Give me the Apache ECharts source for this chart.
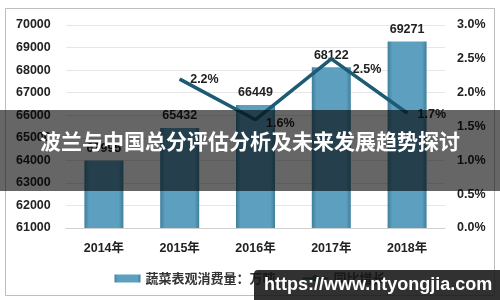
<!DOCTYPE html>
<html>
<head>
<meta charset="utf-8">
<script src="https://cdn.jsdelivr.net/npm/echarts@6/dist/echarts.min.js"></script>
<style>
html,body{margin:0;padding:0;background:#fff;}
#c{width:500px;height:300px;}
</style>
</head>
<body>
<div id="c"></div>
<script>
var categories = ['2014年','2015年','2016年','2017年','2018年'];
var consumption = [63995, 65432, 66449, 68122, 69271];
var growth = [null, 2.2, 1.6, 2.5, 1.7];
var leftTicks = [61000, 70000, 1000];
var rightTicks = [0, 3, 0.5];
var barName = '蔬菜表观消费量：万吨';
var lineName = '同比增长';
var titleText = '波兰与中国总分评估分析及未来发展趋势探讨';
var watermark = 'https://www.ntyongjia.com';

var font = '"Liberation Sans", Arial, "Noto Sans CJK SC", sans-serif';
var labelOffsets = [[0,0],[0,0],[0,4],[11,11],[0,2]];
var chart = echarts.init(document.getElementById('c'), null, {renderer:'canvas'});
var barColor = new echarts.graphic.LinearGradient(0,0,1,0,[
  {offset:0, color:'#3f7f9c'},
  {offset:0.12, color:'#5c9fbe'},
  {offset:0.88, color:'#5c9fbe'},
  {offset:1, color:'#3f7f9c'}
]);
var lineData = growth.map(function(v,i){
  return {value:v, label:{offset:labelOffsets[i]}};
});
chart.setOption({
  animation:false,
  textStyle:{fontFamily:font},
  grid:{left:66, right:55, top:25, bottom:72},
  legend:{
    bottom:10, left:'center', itemGap:26, itemWidth:26, itemHeight:8,
    textStyle:{fontSize:13, fontWeight:'bold', color:'#333', fontFamily:'"Noto Sans CJK SC", sans-serif'},
    data:[{name:barName, icon:'rect'}, {name:lineName}]
  },
  xAxis:{
    type:'category', data:categories,
    axisLine:{lineStyle:{color:'#d0d0d0'}}, axisTick:{show:false},
    axisLabel:{fontSize:12.5, fontWeight:'bold', color:'#222', margin:14}
  },
  yAxis:[{
    type:'value', min:leftTicks[0], max:leftTicks[1], interval:leftTicks[2],
    axisLine:{show:false}, axisTick:{show:false},
    splitLine:{lineStyle:{color:'#e6e6e6'}},
    axisLabel:{fontSize:12.5, fontWeight:'bold', color:'#222', align:'left', margin:50,
      formatter:function(v){return String(v);}}
  },{
    type:'value', min:rightTicks[0], max:rightTicks[1], interval:rightTicks[2],
    axisLine:{show:false}, axisTick:{show:false}, splitLine:{show:false},
    axisLabel:{fontSize:12.5, fontWeight:'bold', color:'#222', margin:12,
      formatter:function(v){return v.toFixed(1)+'%';}}
  }],
  series:[{
    name:barName, type:'bar', data:consumption, barWidth:39,
    itemStyle:{color:barColor},
    label:{show:true, position:'top', distance:6, fontSize:12.5, fontWeight:'bold', color:'#222'}
  },{
    name:lineName, type:'line', yAxisIndex:1, data:lineData, connectNulls:false,
    symbol:'circle', symbolSize:1, showSymbol:true,
    lineStyle:{color:'#1d5b73', width:3.5}, itemStyle:{color:'#1d5b73'},
    label:{show:true, position:'right', distance:10, fontSize:12.5, fontWeight:'bold', color:'#222',
      formatter:function(p){var v=Array.isArray(p.value)?p.value[1]:p.value; return (v==null||v==='-')?'':Number(v).toFixed(1)+'%';}}
  }],
  graphic:[
    {type:'rect', shape:{x:5.5, y:8.5, width:489, height:287}, style:{fill:'none', stroke:'#bdbdbd', lineWidth:1}, z:-1},
    {type:'rect', shape:{x:0, y:110, width:500, height:81}, style:{fill:'rgba(0,0,0,0.6)'}, z:100},
    {type:'text', left:'center', top:131, style:{text:titleText, fill:'#fff', fontSize:21, fontWeight:'bold', fontFamily:'"Noto Sans CJK SC", sans-serif'}, z:101},
    {type:'rect', shape:{x:254, y:270, width:250, height:34, r:[4,0,0,0]}, style:{fill:'rgba(20,20,20,0.88)'}, z:100},
    {type:'text', left:264, top:276, style:{text:watermark, fill:'#fff', fontSize:18, fontWeight:'bold', fontFamily:'"Liberation Sans", Arial, sans-serif'}, z:101}
  ]
});
</script>
</body>
</html>
